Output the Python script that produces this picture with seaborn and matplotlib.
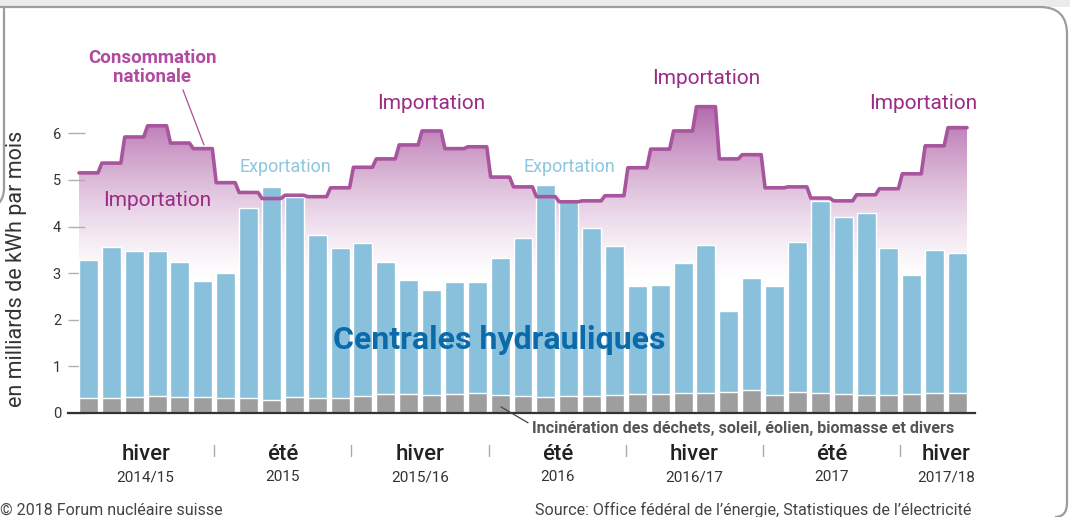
import numpy as np
import pandas as pd
import matplotlib
matplotlib.use("Agg")
import matplotlib.pyplot as plt
import seaborn as sns
from matplotlib.patches import Polygon, PathPatch, Rectangle
from matplotlib.path import Path
from matplotlib.colors import LinearSegmentedColormap
import matplotlib.transforms as mtransforms

# ---------------- data ----------------
months = pd.date_range("2014-10-01", "2017-12-01", freq="MS").strftime("%Y-%m").tolist()

hydro = [2.96, 3.24, 3.14, 3.12, 2.90, 2.49, 2.68, 4.08, 4.57, 4.30, 3.50, 3.22,
         3.29, 2.84, 2.45, 2.26, 2.41, 2.39, 2.95, 3.40, 4.55, 4.23, 3.61, 3.20,
         2.33, 2.35, 2.80, 3.19, 1.74, 2.41, 2.35, 3.22, 4.13, 3.81, 3.91, 3.16,
         2.56, 3.08, 3.01]

other = [0.32, 0.32, 0.34, 0.36, 0.34, 0.34, 0.32, 0.32, 0.28, 0.34, 0.32, 0.32,
         0.36, 0.40, 0.40, 0.38, 0.40, 0.42, 0.38, 0.36, 0.34, 0.36, 0.36, 0.38,
         0.40, 0.40, 0.42, 0.42, 0.45, 0.49, 0.38, 0.45, 0.42, 0.40, 0.38, 0.38,
         0.40, 0.42, 0.42]

consumption = [5.15, 5.36, 5.92, 6.16, 5.79, 5.67, 4.94, 4.73, 4.60, 4.67, 4.64, 4.83,
               5.27, 5.45, 5.75, 6.05, 5.67, 5.71, 5.06, 4.85, 4.64, 4.53, 4.55, 4.66,
               5.26, 5.66, 6.05, 6.57, 5.45, 5.54, 4.83, 4.85, 4.61, 4.55, 4.68, 4.81,
               5.13, 5.73, 6.12]

seasons = ["hiver", "été", "hiver", "été", "hiver", "été", "hiver"]
season_years = ["2014/15", "2015", "2015/16", "2016", "2016/17", "2017", "2017/18"]
yticks = [0, 1, 2, 3, 4, 5, 6]

df = pd.DataFrame({"mois": months, "hydro": hydro, "autres": other, "conso": consumption})
df["total"] = df["hydro"] + df["autres"]
n = len(df)

# ---------------- style ----------------
sns.set_style("white")
plt.rcParams["font.family"] = ["Roboto", "DejaVu Sans"]

BLUE = "#89c0dc"
GRAY = "#9e9e9e"
LINE = "#a8559e"
IMPORT = "#9b2c86"
CONSO = "#b04ba0"
EXPORT = "#8ec6e0"
HYDRO = "#0b6aa9"

fig = plt.figure(figsize=(10.7, 5.17), dpi=100)
ax = fig.add_axes([68 / 1070, 104 / 517, 907 / 1070, 373 / 517])

# bars (stacked: total in blue, other sources in gray at the bottom)
sns.barplot(data=df, x="mois", y="total", color=BLUE, saturation=1, width=0.83, ax=ax, zorder=2)
sns.barplot(data=df, x="mois", y="autres", color=GRAY, saturation=1, width=0.83, ax=ax, zorder=2)

# consumption step line with gradient fill
half = 0.415
xs = np.ravel([[i - half, i + half] for i in range(n)])
ys = np.repeat(df["conso"].values, 2)

pts = [(xs[0], 0)] + list(zip(xs, ys)) + [(xs[-1], 0)]
clip = Polygon(pts, closed=True, facecolor="none", edgecolor="none", transform=ax.transData)
ax.add_patch(clip)
yy = np.linspace(0, 7, 400)
frac = np.clip((yy - 2.8) / (6.7 - 2.8), 0, 1) ** 1.4
cmap = LinearSegmentedColormap.from_list("imp", ["#ffffff", "#b064a8"])
im = ax.imshow(frac[:, None], extent=[xs[0], xs[-1], 0, 7], origin="lower", aspect="auto",
               cmap=cmap, vmin=0, vmax=1, zorder=0.2, interpolation="bilinear")
im.set_clip_path(clip)

ax.plot(xs, ys, color=LINE, lw=2.6, solid_joinstyle="round", zorder=3)

# axes
ax.set_xlim(-0.896, 38.765)
ax.set_ylim(0, 8.0)
ax.set_xticks([])
ax.set_xlabel("")
ax.set_ylabel("")
ax.set_yticks(yticks)
ax.set_yticklabels([str(t) for t in yticks], fontsize=10.5, color="#333333")
ax.tick_params(axis="y", direction="in", length=12, width=1, color="#b0b0b0", pad=5, left=True)
ax.set_axisbelow(True)
for s in ["left", "right", "top"]:
    ax.spines[s].set_visible(False)
ax.spines["bottom"].set_color("#333333")
ax.spines["bottom"].set_linewidth(1.6)
ax.spines["bottom"].set_zorder(4)

# annotations
ax.text(2.78, 7.41, "Consommation\nnationale", color=CONSO, fontsize=13.5, fontweight="bold",
        ha="center", va="center", linespacing=1.05)
ax.plot([4.13, 5.05], [6.93, 5.75], color=CONSO, lw=0.9, zorder=3)

for xi, yi in [(3.02, 4.55), (15.0, 6.63), (27.02, 7.17), (36.49, 6.63)]:
    ax.text(xi, yi, "Importation", color=IMPORT, fontsize=15, ha="center", va="center")
for xi in [8.59, 21.01]:
    ax.text(xi, 5.28, "Exportation", color=EXPORT, fontsize=13, ha="center", va="center")

ax.text(17.95, 1.57, "Centrales hydrauliques", color=HYDRO, fontsize=23, fontweight="bold",
        ha="center", va="center", zorder=5)

ax.plot([18.04, 19.22], [0.13, -0.21], color="#444444", lw=0.9, clip_on=False, zorder=5)
ax.text(19.4, -0.33, "Incinération des déchets, soleil, éolien, biomasse et divers",
        color="#555555", fontsize=11.6, fontweight="bold", ha="left", va="center", clip_on=False)

# season labels
for k, (sname, syear) in enumerate(zip(seasons, season_years)):
    start = 6 * k
    size = min(6, n - start)
    cx = start + 2.5 if size == 6 else start + 1.5
    ax.text(cx, -0.88, sname, fontsize=16, ha="center", va="center", color="#222222",
            fontweight="medium", clip_on=False)
    ax.text(cx, -1.38, syear, fontsize=11, ha="center", va="center", color="#333333",
            clip_on=False)
    if k > 0:
        ax.plot([start - 0.5, start - 0.5], [-0.68, -0.92], color="#aaaaaa", lw=1, clip_on=False)

# y label and credits
fig.text(17 / 1070, (517 - 269) / 517, "en milliards de kWh par mois", rotation=90,
         fontsize=15.5, ha="center", va="center", color="#333333")
fig.text(0.0, (517 - 510) / 517, "© 2018 Forum nucléaire suisse", fontsize=11.5,
         ha="left", va="center", color="#444444")
fig.text(971 / 1070, (517 - 510) / 517,
         "Source: Office fédéral de l’énergie, Statistiques de l’électricité",
         fontsize=11.6, ha="right", va="center", color="#444444")

# decorative page frame (pixel coordinates, origin top-left)
tr = mtransforms.Affine2D().scale(1 / 1070, -1 / 517).translate(0, 1) + fig.transFigure
fig.add_artist(Rectangle((0, 0), 1070, 6.5, facecolor="#ebebeb", edgecolor="none", transform=tr))
frame = Path([(0, 7), (1040, 7), (1067, 7), (1067, 34), (1067, 503), (1067, 517), (1055, 517)],
             [Path.MOVETO, Path.LINETO, Path.CURVE3, Path.CURVE3, Path.LINETO, Path.CURVE3, Path.CURVE3])
fig.add_artist(PathPatch(frame, facecolor="none", edgecolor="#9c9c9c", lw=1.6, transform=tr))
left = Path([(4, 7), (4, 188), (4, 200), (-4, 206)],
            [Path.MOVETO, Path.LINETO, Path.CURVE3, Path.CURVE3])
fig.add_artist(PathPatch(left, facecolor="none", edgecolor="#9c9c9c", lw=1.6, transform=tr))

fig.savefig("out.png", dpi=100)
